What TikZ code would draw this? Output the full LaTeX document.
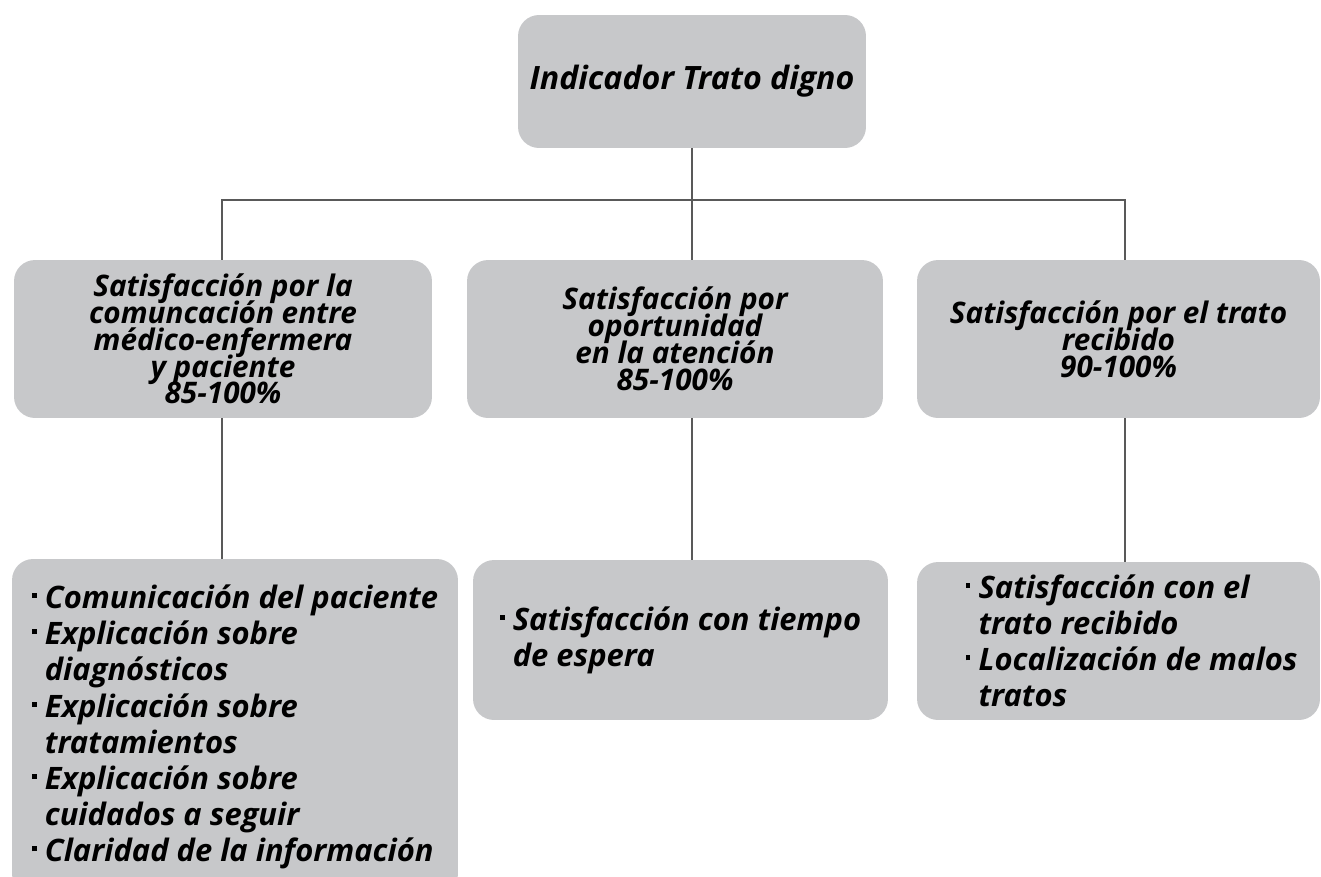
\documentclass[tikz,border=0pt]{standalone}
\usepackage{fontspec}
\setmainfont{Open Sans}
\usetikzlibrary{positioning}

\definecolor{boxgray}{HTML}{C7C8CA}
\definecolor{linegray}{HTML}{595959}

\newcommand{\tightlines}{\lineskiplimit=-20pt\relax\lineskip=0pt\relax}
\tikzset{
  box/.style={fill=boxgray, rounded corners=0.42cm, inner sep=0pt, align=center,
              font=\fontsize{16.9}{15.3}\selectfont\bfseries\itshape\tightlines},
  listbox/.style={box, align=left,
              font=\fontsize{17.6}{20.6}\selectfont\bfseries\itshape},
  link/.style={draw=linegray, line width=1.1pt},
}
\newcommand{\bul}{\makebox[7.4pt][l]{\rule[6pt]{2.8pt}{2.8pt}}}
\newcommand{\ind}{\hspace*{7.4pt}}
\newcommand{\pad}{\hspace*{0.52cm}}

\begin{document}
\begin{tikzpicture}[x=0.02cm, y=-0.02cm]
  \useasboundingbox (0,0) rectangle (1321,876);
  \clip (0,0) rectangle (1321,876);

  % upper levels
  \node[box, minimum width=6.96cm, minimum height=2.66cm,
        font=\fontsize{18.3}{19}\selectfont\bfseries\itshape] (top) at (692,81.5) {Indicador Trato digno};
  \node[box, minimum width=8.36cm, minimum height=3.16cm] (com) at (223,339)
    {Satisfacción por la\\comuncación entre\\médico-enfermera\\y paciente\\85-100\%};
  \node[box, minimum width=8.32cm, minimum height=3.16cm] (opo) at (675,339)
    {Satisfacción por\\oportunidad\\en la atención\\85-100\%};
  \node[box, minimum width=8.06cm, minimum height=3.16cm] (tra) at (1118.5,339)
    {Satisfacción por el trato\\recibido\\90-100\%};

  % lists
  \node[listbox, minimum width=8.92cm, minimum height=6.72cm] (comlst) at (235,727)
    {\bul Comunicación del paciente\\
     \bul Explicación sobre\\\ind diagnósticos\\
     \bul Explicación sobre\\\ind tratamientos\\
     \bul Explicación sobre\\\ind cuidados a seguir\\
     \bul Claridad de la información};
  \node[listbox, minimum width=8.3cm, minimum height=3.2cm] (opolst) at (680.5,640)
    {\bul Satisfacción con tiempo\\\ind de espera};
  \node[listbox, minimum width=8.06cm, minimum height=3.16cm] (tralst) at (1118.5,641)
    {\pad\bul Satisfacción con el\\\pad\ind trato recibido\\
     \pad\bul Localización de malos\\\pad\ind tratos};

  % connectors
  \coordinate (bl) at (222,200);
  \coordinate (br) at (1125,200);
  \draw[link] (top.south) -- (top.south |- opo.north);
  \draw[link] (bl |- com.north) -- (bl) -- (br) -- (br |- tra.north);
  \draw[link] (bl |- com.south) -- (bl |- comlst.north);
  \draw[link] (top.south |- opo.south) -- (top.south |- opolst.north);
  \draw[link] (br |- tra.south) -- (br |- tralst.north);
\end{tikzpicture}
\end{document}
